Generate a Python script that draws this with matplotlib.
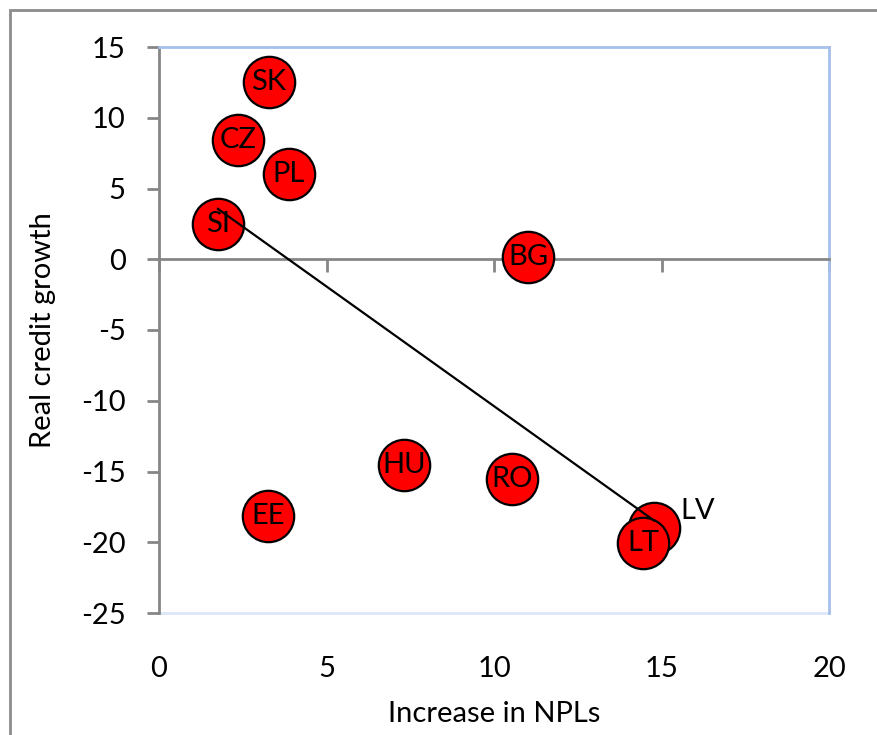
import matplotlib
matplotlib.use("Agg")
import matplotlib.pyplot as plt
import numpy as np
from matplotlib.patches import Rectangle

plt.rcParams['font.family'] = ['Lato', 'DejaVu Sans']

countries = ['SK', 'CZ', 'PL', 'SI', 'BG', 'HU', 'RO', 'EE', 'LV', 'LT']
npl_increase = [3.27, 2.37, 3.88, 1.76, 11.02, 7.31, 10.54, 3.25, 14.78, 14.46]
credit_growth = [12.53, 8.46, 6.06, 2.52, 0.14, -14.56, -15.55, -18.16, -18.96, -20.02]

xticks = [0, 5, 10, 15, 20]
yticks = [15, 10, 5, 0, -5, -10, -15, -20, -25]

fig = plt.figure(figsize=(8.77, 7.35), dpi=100)
ax = fig.add_axes([159/877, 1-613/735, 670/877, 566/735])

# outer chart border
fig.patches.append(Rectangle((10/877, -0.1), 1.2, 1 - 10/735 + 0.1,
                             transform=fig.transFigure, fill=False,
                             edgecolor='#8c8c8c', linewidth=2))

# points with labels inside
ax.plot(npl_increase, credit_growth, 'o', ms=37, mfc='#ff0000', mec='black',
        mew=1.6, zorder=3)
for c, x, y in zip(countries, npl_increase, credit_growth):
    if c == 'LV':
        ax.annotate(c, (x, y), xytext=(19, 12), textcoords='offset points',
                    ha='left', va='center', fontsize=21, zorder=4)
    else:
        ax.text(x, y, c, ha='center', va='center', fontsize=21, zorder=4)

# linear trend line over data range
k, b = np.polyfit(npl_increase, credit_growth, 1)
xs = np.array([min(npl_increase), max(npl_increase)])
ax.plot(xs, k * xs + b, color='black', lw=1.6, zorder=5)

ax.set_xlim(0, 20)
ax.set_ylim(-25, 15)

ax.spines['bottom'].set_position(('data', 0))
ax.spines['bottom'].set_color('#868686')
ax.spines['bottom'].set_linewidth(2)
ax.spines['left'].set_color('#868686')
ax.spines['left'].set_linewidth(2)
ax.spines['top'].set_color('#a6c0ea')
ax.spines['top'].set_linewidth(2)
ax.spines['right'].set_color('#a6c0ea')
ax.spines['right'].set_linewidth(2)

ax.set_xticks(xticks)
ax.set_yticks(yticks)
ax.set_yticklabels([str(t) for t in yticks], fontsize=21)
ax.tick_params(axis='x', direction='out', length=9, width=2, color='#868686',
               labelbottom=False)
ax.tick_params(axis='y', direction='out', length=9, width=2, color='#868686',
               pad=15)

sec = ax.secondary_xaxis(0.0)
sec.set_xticks(xticks)
sec.set_xticklabels([str(t) for t in xticks], fontsize=21)
sec.tick_params(length=0, pad=31)
sec.spines['bottom'].set_color('#dce6f6')
sec.spines['bottom'].set_linewidth(2)
sec.set_xlabel('Increase in NPLs', fontsize=21, labelpad=14)

ax.set_ylabel('Real credit growth', fontsize=21, labelpad=18)

fig.savefig('out.png', dpi=100)
